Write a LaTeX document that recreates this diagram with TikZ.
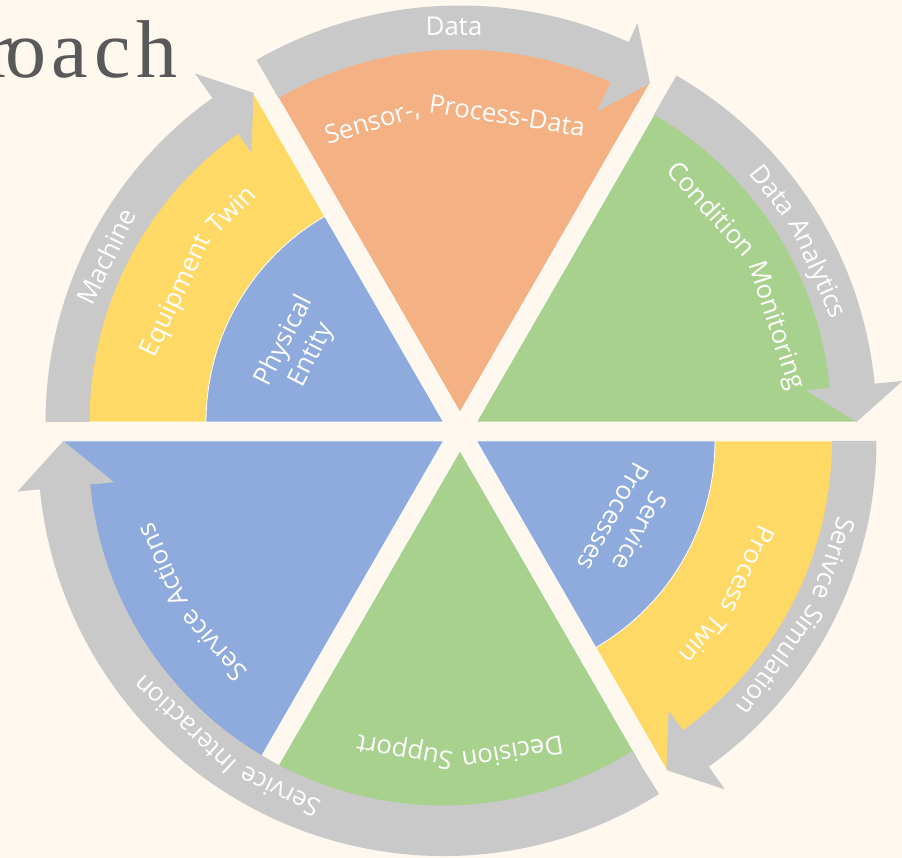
\documentclass[tikz,border=0pt]{standalone}
\usepackage{fontspec}
\newfontfamily\lblfamily{Open Sans}
\newfontfamily\ttlfamily[LetterSpace=7.3]{Liberation Serif}
\usetikzlibrary{calc}
\definecolor{bgc}{HTML}{FEF8EE}
\definecolor{bandc}{HTML}{C9C9C9}
\definecolor{orangec}{HTML}{F4B183}
\definecolor{greenc}{HTML}{A9D18E}
\definecolor{bluec}{HTML}{8FAADC}
\definecolor{yellowc}{HTML}{FFD966}
\definecolor{titlec}{HTML}{595959}
\newcommand\lblfont{\lblfamily\fontsize{25.8}{30.5}\selectfont}
\newcommand\ttlfont{\ttlfamily\fontsize{82}{88}\selectfont}
\newlength\wdTmp
\makeatletter
\newcommand\storewd[2]{\settowidth\wdTmp{\lblfont #2}\expandafter\xdef\csname wd@#1\endcsname{\strip@pt\wdTmp}}
\newcommand\getwd[1]{\csname wd@#1\endcsname}
\makeatother
\AtBeginDocument{%
  \storewd{space}{\ }%
  \storewd{lSPDa}{Sensor-,}\storewd{lSPDb}{Process-Data}%
  \storewd{lDAa}{Data}\storewd{lDAb}{Analytics}%
  \storewd{lCMa}{Condition}\storewd{lCMb}{Monitoring}%
  \storewd{lETa}{Equipment}\storewd{lETb}{Twin}%
  \storewd{lSSa}{Serivce}\storewd{lSSb}{Simulation}%
  \storewd{lPTa}{Process}\storewd{lPTb}{Twin}%
  \storewd{lDSa}{Decision}\storewd{lDSb}{Support}%
  \storewd{lSIa}{Service}\storewd{lSIb}{Interaction}%
  \storewd{lSAa}{Service}\storewd{lSAb}{Actions}%
}
% one word, baseline tangent to a clockwise arc, tops pointing outward
\newcommand\arcword[5]{%
  \node[lbl, anchor=base, rotate=#2-90] (#5) at ($(#1)+(#2:#3)$) {#4};}
% two words along a clockwise arc: centre, mid angle, baseline radius, word 1, word 2, name
\newcommand\arctwo[6]{%
  \pgfmathsetmacro\angA{#2+(\getwd{space}+\getwd{#6b})/(2*#3)*57.29578}%
  \pgfmathsetmacro\angB{#2-(\getwd{#6a}+\getwd{space})/(2*#3)*57.29578}%
  \pgfmathsetmacro\radA{#3-0.5*#3*(1/cos(\getwd{#6a}/(2*#3)*57.29578)-1)}%
  \pgfmathsetmacro\radB{#3-0.5*#3*(1/cos(\getwd{#6b}/(2*#3)*57.29578)-1)}%
  \node[lbl, anchor=base, rotate=\angA-90] (#6a) at ($(#1)+(\angA:\radA)$) {#4};
  \node[lbl, anchor=base, rotate=\angB-90] (#6b) at ($(#1)+(\angB:\radB)$) {#5};}
\tikzset{
  sectoredge/.style={draw=white, line width=0.8pt},
  bandshape/.style={fill=bandc},
  lbl/.style={text=white, font=\lblfont, inner sep=0pt, align=center},
  ttl/.style={text=titlec, font=\ttlfont, inner sep=0pt},
}
\begin{document}
\begin{tikzpicture}[x=1pt,y=1pt]
\useasboundingbox (-460,-426.5) rectangle (442,431.5);
\fill[bgc] (-460,-426.5) rectangle (442,431.5);
\coordinate (UL) at (150:19);
\coordinate (T) at (90:19);
\coordinate (UR) at (30:19);
\coordinate (LR) at (-30:19);
\coordinate (B) at (-90:19);
\coordinate (LL) at (210:19);
\coordinate (G) at (-16.45,-19);

% upper left: Machine / Equipment Twin / Physical Entity
\begin{scope}[shift={(UL)}]
  \fill[yellowc, sectoredge] (0,0) -- (180:357) arc[start angle=180,end angle=125.5,radius=357] -- (120:380) -- cycle;
  \fill[bluec, sectoredge] (0,0) -- (180:237.5) arc[start angle=180,end angle=120,radius=237.5] -- cycle;
  \fill[bandshape] (180:398) arc[start angle=180,end angle=125.5,radius=398] -- (125.5:428) -- (120:380) -- (125.5:331) -- (125.5:354) arc[start angle=125.5,end angle=180,radius=354] -- cycle;
\end{scope}

% top: Data / Sensor-, Process-Data
\begin{scope}[shift={(T)}]
  \fill[orangec, sectoredge] (0,0) -- (120:366) arc[start angle=120,end angle=65.5,radius=366] -- (60:380) -- cycle;
  \fill[bandshape] (120:407) arc[start angle=120,end angle=65.5,radius=407] -- (65.5:428) -- (60:380) -- (65.5:331) -- (65.5:363) arc[start angle=65.5,end angle=120,radius=363] -- cycle;
\end{scope}

% upper right: Data Analytics / Condition Monitoring
\begin{scope}[shift={(UR)}]
  \fill[greenc, sectoredge] (0,0) -- (60:358) arc[start angle=60,end angle=5.5,radius=358] -- (0:380) -- cycle;
  \fill[bandshape] (60:400) arc[start angle=60,end angle=5.5,radius=400] -- (5.5:428) -- (0:380) -- (5.5:331) -- (5.5:355) arc[start angle=5.5,end angle=60,radius=355] -- cycle;
\end{scope}

% lower right: Serivce Simulation / Process Twin / Service Processes
\begin{scope}[shift={(LR)}]
  \fill[yellowc, sectoredge] (0,0) -- (0:358) arc[start angle=0,end angle=-54.5,radius=358] -- (-60:380) -- cycle;
  \fill[bluec, sectoredge] (0,0) -- (0:238.5) arc[start angle=0,end angle=-60,radius=238.5] -- cycle;
  \fill[bandshape] (0:400) arc[start angle=0,end angle=-54.5,radius=400] -- (-54.5:428) -- (-60:380) -- (-54.5:331) -- (-54.5:355.5) arc[start angle=-54.5,end angle=0,radius=355.5] -- cycle;
\end{scope}

% bottom: Decision Support
\begin{scope}[shift={(B)}]
  \fill[greenc, sectoredge] (0,0) -- (-60:366) arc[start angle=-60,end angle=-120,radius=366] -- cycle;
\end{scope}

% lower left: Service Actions
\begin{scope}[shift={(LL)}]
  \fill[bluec, sectoredge] (0,0) -- (240:366) arc[start angle=240,end angle=186,radius=366] -- (180:380.25) -- cycle;
\end{scope}

% Service Interaction band
\begin{scope}[shift={(G)}]
  \fill[bandshape] (-57.9:405.5) arc[start angle=-57.9,end angle=-174.5,radius=405.5] -- (-174.5:428) -- (-380.25,9.5) -- (-174.5:331) -- (-174.5:355) arc[start angle=-174.5,end angle=-57.9,radius=355] -- cycle;
\end{scope}

% labels following the arcs
\arcword{T}{90.9}{377}{Data}{lData}
\arctwo{T}{91}{297}{Sensor-,}{Process-Data}{lSPD}
\arctwo{UR}{29.2}{368}{Data}{Analytics}{lDA}
\arctwo{UR}{29.3}{311}{Condition}{Monitoring}{lCM}
\arcword{UL}{153.8}{366.5}{Machine}{lMach}
\arctwo{UL}{148.5}{292}{Equipment}{Twin}{lET}
\arctwo{LR}{-28.7}{368.5}{Serivce}{Simulation}{lSS}
\arctwo{LR}{-31.5}{293}{Process}{Twin}{lPT}
\arctwo{B}{-90}{300}{Decision}{Support}{lDS}
\arctwo{G}{233.8}{370.5}{Service}{Interaction}{lSI}
\arctwo{LL}{212.6}{300}{Service}{Actions}{lSA}

% two-line labels
\node[lbl, rotate=63] (phys) at ($(UL)+(153:163)$) {Physical\\Entity};
\node[lbl, rotate=-119] (svcp) at ($(LR)+(-29:172)$) {Service\\Processes};

% title fragment
\node[ttl, anchor=base east] (ttl) at (-282,353.5) {r\kern-8pt oach};
\end{tikzpicture}
\end{document}
